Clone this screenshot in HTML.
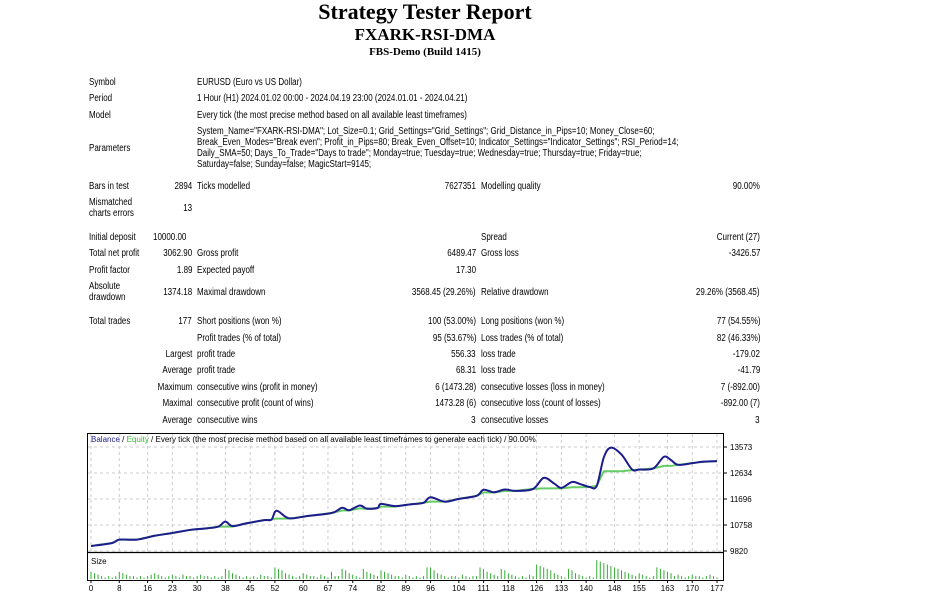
<!DOCTYPE html>
<html><head><meta charset="utf-8">
<style>
body{margin:0;background:#fff;width:937px;height:600px;overflow:hidden;position:relative;font-family:"Liberation Sans",sans-serif;color:#000}
.h{position:absolute;left:0;width:850px;text-align:center;font-family:"Liberation Serif",serif;font-weight:bold;white-space:nowrap}
.t{position:absolute;font-size:10px;line-height:11px;white-space:nowrap;transform:scaleX(0.8);transform-origin:left center}
.r{transform-origin:right center;text-align:right}
</style></head><body>
<div class="h" style="top:-1px;font-size:22px">Strategy Tester Report</div>
<div class="h" style="top:25px;font-size:17px">FXARK-RSI-DMA</div>
<div class="h" style="top:46px;font-size:11px">FBS-Demo (Build 1415)</div>
<div id="tbl"></div>
<svg id="chart" width="937" height="600" style="position:absolute;left:0;top:0" xmlns="http://www.w3.org/2000/svg"></svg>
<script>
// ---- table ----
const L=[
["Symbol",89,83],["EURUSD (Euro vs US Dollar)",197,83],
["Period",89,99],["1 Hour (H1) 2024.01.02 00:00 - 2024.04.19 23:00 (2024.01.01 - 2024.04.21)",197,99],
["Model",89,116],["Every tick (the most precise method based on all available least timeframes)",197,116],
["Parameters",89,149],
["System_Name=\"FXARK-RSI-DMA\"; Lot_Size=0.1; Grid_Settings=\"Grid_Settings\"; Grid_Distance_in_Pips=10; Money_Close=60;",197,132],
["Break_Even_Modes=\"Break even\"; Profit_in_Pips=80; Break_Even_Offset=10; Indicator_Settings=\"Indicator_Settings\"; RSI_Period=14;",197,143],
["Daily_SMA=50; Days_To_Trade=\"Days to trade\"; Monday=true; Tuesday=true; Wednesday=true; Thursday=true; Friday=true;",197,154],
["Saturday=false; Sunday=false; MagicStart=9145;",197,165],
["Bars in test",89,187],["2894",192,187,1],["Ticks modelled",197,187],["7627351",476,187,1],["Modelling quality",481,187],["90.00%",760,187,1],
["Mismatched",89,203],["charts errors",89,214],["13",192,209,1],
["Initial deposit",89,238],["10000.00",153,238],["Spread",481,238],["Current (27)",760,238,1],
["Total net profit",89,254],["3062.90",192,254,1],["Gross profit",197,254],["6489.47",476,254,1],["Gross loss",481,254],["-3426.57",760,254,1],
["Profit factor",89,271],["1.89",192,271,1],["Expected payoff",197,271],["17.30",476,271,1],
["Absolute",89,287],["drawdown",89,298],["1374.18",192,293,1],["Maximal drawdown",197,293],["3568.45 (29.26%)",476,293,1],["Relative drawdown",481,293],["29.26% (3568.45)",760,293,1],
["Total trades",89,322],["177",192,322,1],["Short positions (won %)",197,322],["100 (53.00%)",476,322,1],["Long positions (won %)",481,322],["77 (54.55%)",760,322,1],
["Profit trades (% of total)",197,339],["95 (53.67%)",476,339,1],["Loss trades (% of total)",481,339],["82 (46.33%)",760,339,1],
["Largest",192,355,1],["profit trade",197,355],["556.33",476,355,1],["loss trade",481,355],["-179.02",760,355,1],
["Average",192,371,1],["profit trade",197,371],["68.31",476,371,1],["loss trade",481,371],["-41.79",760,371,1],
["Maximum",192,388,1],["consecutive wins (profit in money)",197,388],["6 (1473.28)",476,388,1],["consecutive losses (loss in money)",481,388],["7 (-892.00)",760,388,1],
["Maximal",192,404,1],["consecutive profit (count of wins)",197,404],["1473.28 (6)",476,404,1],["consecutive loss (count of losses)",481,404],["-892.00 (7)",760,404,1],
["Average",192,421,1],["consecutive wins",197,421],["3",476,421,1],["consecutive losses",481,421],["3",760,421,1]
];
const tbl=document.getElementById('tbl');
L.forEach(a=>{const d=document.createElement('div');


d.className='t'+(a[3]?' r':'');d.textContent=a[0];d.style.top=(a[2]-6)+'px';
if(a[3]){d.style.right=(937-a[1])+'px';}else d.style.left=a[1]+'px';tbl.appendChild(d);});

// ---- chart data ----
const keyTrades=[0,6,8,13,18,23,28,33,36,38,40,44,49,51,52,53,56,61,68,71,73,76,78,81,82,86,90,94,96,100,104,109,111,114,117,120,125,128,131,133,136,138,141,143,145,147,150,153,155,159,162,164,166,170,173,177];
const balanceVals=[10000,10110,10230,10230,10370,10470,10580,10640,10700,10880,10720,10820,10935,10950,11230,11250,11000,11080,11190,11380,11290,11460,11350,11370,11520,11440,11500,11560,11760,11600,11700,11810,12030,11940,12040,11990,12060,12460,12250,12100,12310,12250,12130,12170,13200,13550,13300,12760,12760,12800,13220,13100,12930,12990,13040,13063];
const equityVals=[10000,10110,10230,10230,10370,10470,10580,10640,10700,10700,10700,10820,10935,10950,10990,10990,10990,11080,11190,11280,11280,11360,11340,11370,11420,11420,11500,11560,11600,11600,11700,11810,11930,11930,11990,11990,12060,12080,12080,12080,12120,12120,12130,12170,12700,12700,12700,12740,12760,12800,12890,12890,12930,12990,13040,13063];
const sizes=[5,4,3,2,1,2,1,2,5,4,3,2,2,1,2,1,2,3,4,3,2,1,2,3,2,1,3,2,2,1,2,3,2,2,1,2,1,2,7,6,4,3,2,1,2,1,2,1,3,2,2,1,8,7,6,4,3,2,1,2,4,3,2,2,1,3,2,1,5,2,2,7,6,4,3,2,1,7,5,4,3,2,6,5,4,3,2,2,1,3,2,1,2,1,2,8,8,6,4,3,2,1,2,2,1,3,2,1,2,2,8,7,5,4,3,2,7,6,4,3,2,1,2,1,3,2,10,9,8,7,6,4,3,2,1,7,6,4,3,2,1,2,1,13,12,11,10,9,8,7,6,5,4,3,2,4,3,2,1,2,8,7,6,5,4,2,3,2,1,2,3,2,2,1,2,3,2,1];
const xTicks=[0,8,16,23,30,38,45,52,60,67,74,82,89,96,104,111,118,126,133,140,148,155,163,170,177];
const yTicks=[9820,10758,11696,12634,13573];

const svg=document.getElementById('chart');const NS='http://www.w3.org/2000/svg';
function X(t){return 91+t*(717-91)/177;}
function Y(v){return 551-(v-9820)*(551-447)/(13573-9820);}
function S(s){return 579-s*1.45;}
function el(n,at,txt){const e=document.createElementNS(NS,n);for(const k in at)e.setAttribute(k,at[k]);if(txt!==undefined)e.textContent=txt;svg.appendChild(e);return e;}
function smooth(pts){let d='M'+pts[0][0]+','+pts[0][1];
 for(let i=0;i<pts.length-1;i++){const p0=pts[Math.max(0,i-1)],p1=pts[i],p2=pts[i+1],p3=pts[Math.min(pts.length-1,i+2)];
  const c1x=p1[0]+(p2[0]-p0[0])/6,c1y=p1[1]+(p2[1]-p0[1])/6,c2x=p2[0]-(p3[0]-p1[0])/6,c2y=p2[1]-(p3[1]-p1[1])/6;
  d+=' C'+c1x+','+c1y+' '+c2x+','+c2y+' '+p2[0]+','+p2[1];}
 return d;}

let e;
e=el('rect',{x:87.5,y:433.5,width:636,height:147,fill:'#fff',stroke:'#000','stroke-width':1});


e=el('line',{x1:87,y1:552.5,x2:724,y2:552.5,stroke:'#000','stroke-width':1.2});


xTicks.forEach(t=>{
 e=el('line',{x1:X(t),y1:434,x2:X(t),y2:552,stroke:'#ccc','stroke-dasharray':'3,3'});
 
 
 e=el('line',{x1:X(t),y1:580,x2:X(t),y2:583,stroke:'#000'});
 
 
 e=el('text',{x:X(t),y:591,'font-size':8,'text-anchor':'middle','font-family':'Liberation Sans, sans-serif'},String(t));
 
 
});
yTicks.forEach(v=>{
 e=el('line',{x1:88,y1:Y(v),x2:723,y2:Y(v),stroke:'#ccc','stroke-dasharray':'3,3'});
 
 
 e=el('line',{x1:723,y1:Y(v),x2:727,y2:Y(v),stroke:'#000'});
 
 
 e=el('text',{x:730,y:Y(v)+3,'font-size':8,'font-family':'Liberation Sans, sans-serif'},String(v));
 
 
});
sizes.forEach((s,i)=>{
 e=el('line',{x1:X(i),y1:579,x2:X(i),y2:S(s),stroke:'#3a3','stroke-width':1});
 
 
});
e=el('text',{x:91,y:564,'font-size':8,'font-family':'Liberation Sans, sans-serif'},'Size');


const ep=keyTrades.map((t,i)=>X(t)+','+Y(equityVals[i])).join(' ');
e=el('polyline',{points:ep,fill:'none',stroke:'#6c6','stroke-width':2});


const bpts=keyTrades.map((t,i)=>[X(t),Y(balanceVals[i])]);
e=el('path',{d:smooth(bpts),fill:'none',stroke:'#1c1c8c','stroke-width':2,'stroke-linejoin':'round'});


const ttl=el('text',{x:91,y:442,'font-size':8,'font-family':'Liberation Sans, sans-serif'});


[['Balance','#22228a'],[' / ','#000'],['Equity','#3b3'],[' / Every tick (the most precise method based on all available least timeframes to generate each tick) / 90.00%','#000']].forEach(p=>{const s=document.createElementNS(NS,'tspan');s.setAttribute('fill',p[1]);s.textContent=p[0];ttl.appendChild(s);});
</script>
</body></html>
